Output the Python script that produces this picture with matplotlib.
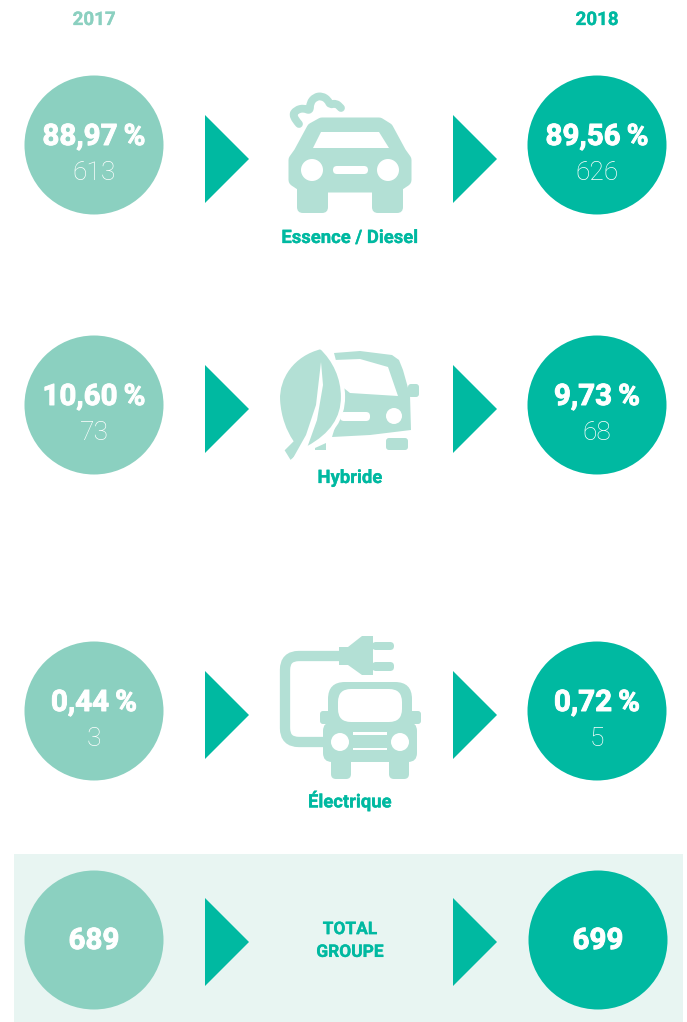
import matplotlib
matplotlib.use('Agg')
import matplotlib.pyplot as plt
import matplotlib.patheffects as pe
from matplotlib.patches import Circle, Polygon, Rectangle, FancyBboxPatch, PathPatch
from matplotlib.path import Path

years = ['2017', '2018']
categories = ['Essence / Diesel', 'Hybride', 'Électrique']
pct_2017 = ['88,97\u2009%', '10,60\u2009%', '0,44\u2009%']
pct_2018 = ['89,56\u2009%', '9,73\u2009%', '0,72\u2009%']
count_2017 = [613, 73, 3]
count_2018 = [626, 68, 5]
total_label = 'TOTAL\nGROUPE'
total_2017 = 689
total_2018 = 699

LIGHT = '#8bd0c0'
DARK = '#00b9a1'
ICON = '#b3e0d5'
BAND = '#e8f5f2'
WHITE = '#ffffff'
FONT = 'Roboto'

W, H = 687, 1022
fig = plt.figure(figsize=(W / 100, H / 100), dpi=100)
ax = fig.add_axes([0, 0, 1, 1])
ax.set_xlim(0, W)
ax.set_ylim(H, 0)
ax.axis('off')


def smooth(pts):
    # quadratic curves through the midpoints of the control polygon
    mid = lambda a, b: ((a[0] + b[0]) / 2, (a[1] + b[1]) / 2)
    verts = [pts[0]]
    codes = [Path.MOVETO]
    for i in range(1, len(pts) - 1):
        verts += [pts[i], mid(pts[i], pts[i + 1])]
        codes += [Path.CURVE3, Path.CURVE3]
    verts.append(pts[-1])
    codes.append(Path.LINETO)
    return Path(verts, codes)


def rrect(x0, y0, x1, y1, r, color=ICON, z=3):
    ax.add_patch(FancyBboxPatch((x0 + r, y0 + r), x1 - x0 - 2 * r, y1 - y0 - 2 * r,
                                boxstyle='round,pad=%f,rounding_size=%f' % (r, r),
                                fc=color, ec='none', zorder=z))


def poly(pts, color=ICON, z=3, round_px=0):
    # round_px: a stroke of the same colour rounds off the corners
    ax.add_patch(Polygon(pts, closed=True, fc=color, ec=color if round_px else 'none',
                         lw=round_px * 0.72, joinstyle='round', zorder=z))


def dot(x, y, r, color=WHITE, z=4):
    ax.add_patch(Circle((x, y), r, fc=color, ec='none', zorder=z))


def stroke(pts, lw, color=ICON, z=3):
    ax.add_patch(PathPatch(smooth(pts), fc='none', ec=color, lw=lw, capstyle='round',
                           joinstyle='round', zorder=z))


def petrol_car():
    stroke([(299, 124), (292, 116), (296, 110), (304, 108), (310, 111), (310, 103),
            (315, 97), (322, 96), (328, 100), (330, 105), (336, 103), (341, 108)], 5.6)
    poly([(322, 124), (379, 124), (387, 129), (400, 153), (405, 160), (405, 180), (396, 186),
          (304, 186), (295, 180), (295, 160), (300, 153), (313, 129)], round_px=13)
    rrect(297, 180, 328, 213, 6)
    rrect(372, 180, 403, 213, 6)
    poly([(321, 132), (379, 132), (389, 148), (313, 148)], WHITE, 4)
    dot(312, 170, 11)
    dot(388, 170, 11)
    rrect(333, 166, 368, 174, 4, WHITE, 4)


def hybrid_car():
    # wheels and mirror sit under the body
    rrect(386, 438, 408, 450, 3)
    poly([(315, 448), (326, 443), (326, 450), (315, 450)])
    rrect(408, 384, 419, 397, 3)
    poly([(334, 353), (360, 351), (392, 355), (399, 360), (403, 370), (410, 395), (411, 430),
          (370, 435), (332, 437), (345, 395)])
    poly([(334, 360), (360, 359), (388, 367), (398, 396), (350, 393), (340, 385)], WHITE, 4)
    rrect(340, 412, 370, 421, 4, WHITE, 4)
    dot(394, 416, 8)
    # leaf, with a white edge cutting into the car
    leaf = Path([(321, 347), (292, 354), (277, 378), (278, 400), (279, 418), (285, 432), (291, 441),
                 (282, 450), (290, 463), (308, 448), (332, 435), (343, 418), (343, 397),
                 (343, 378), (335, 360), (321, 347)],
                [Path.MOVETO, Path.CURVE4, Path.CURVE4, Path.CURVE4, Path.CURVE4, Path.CURVE4, Path.CURVE4,
                 Path.LINETO, Path.LINETO, Path.LINETO, Path.CURVE4, Path.CURVE4, Path.CURVE4,
                 Path.CURVE4, Path.CURVE4, Path.CURVE4])
    ax.add_patch(PathPatch(leaf, fc=ICON, ec=WHITE, lw=3, zorder=6))
    poly([(321, 362), (323, 385), (317, 420), (307, 448), (295, 464), (292, 460), (306, 435),
          (316, 405)], WHITE, 7)


def electric_car():
    ax.add_patch(PathPatch(Path([(345, 656), (299, 656), (285, 656), (285, 670), (285, 728),
                                 (285, 742), (299, 742), (330, 742)],
                                [Path.MOVETO, Path.LINETO, Path.CURVE3, Path.CURVE3, Path.LINETO,
                                 Path.CURVE3, Path.CURVE3, Path.LINETO]),
                           fc='none', ec=ICON, lw=7.4, zorder=3))
    poly([(339, 647), (348, 647), (362, 636), (373, 636), (373, 675), (362, 675), (348, 665),
          (339, 665)])
    rrect(372, 642, 394, 650, 4)
    rrect(372, 662, 394, 671, 4)
    rrect(328, 682, 412, 730, 17)
    rrect(338, 689, 402, 722, 13, WHITE, 4)
    rrect(320, 711, 421, 724, 3)
    rrect(323, 722, 417, 762, 9)
    poly([(331, 722), (409, 722), (417, 740), (323, 740)])
    rrect(331, 755, 351, 779, 5)
    rrect(389, 755, 409, 779, 5)
    dot(340, 742, 9)
    dot(400, 742, 9)
    ax.add_patch(Rectangle((353, 732.5), 34, 2.5, fc=WHITE, ec='none', zorder=4))
    ax.add_patch(Rectangle((353, 748), 34, 2.5, fc=WHITE, ec='none', zorder=4))


def arrow(x, y):
    poly([(x, y - 44), (x + 44, y), (x, y + 44)], DARK, 2)


def heavy(x, y, s, color=WHITE, size=21.3, lw=0.7, **kw):
    # a thin outline brings Roboto Bold up to the weight of the reference
    ax.text(x, y, s, color=color, fontsize=size, family=FONT, weight='bold', ha='center', va='center',
            zorder=5, path_effects=[pe.withStroke(linewidth=lw, foreground=color)], **kw)


# band behind the total row
ax.add_patch(Rectangle((14, 854), 669, 168, fc=BAND, ec='none', zorder=0))

row_y = [145, 405, 711]
arrow_y = [159, 409, 715]
label_y = [238, 478, 801]
left_x, right_x = 94, 597

heavy(left_x, 20, years[0], LIGHT, 13.5, 0.2)
heavy(right_x, 20, years[1], DARK, 13.5, 0.2)

for i in range(len(categories)):
    ax.add_patch(Circle((left_x, row_y[i]), 69.5, fc=LIGHT, ec='none', zorder=1))
    ax.add_patch(Circle((right_x, row_y[i]), 69.5, fc=DARK, ec='none', zorder=1))
    heavy(left_x, row_y[i] - 8, pct_2017[i])
    heavy(right_x, row_y[i] - 8, pct_2018[i])
    ax.text(left_x, row_y[i] + 28, str(count_2017[i]), color=WHITE, fontsize=19, family=FONT, weight='light',
            ha='center', va='center', zorder=5)
    ax.text(right_x, row_y[i] + 28, str(count_2018[i]), color=WHITE, fontsize=19, family=FONT, weight='light',
            ha='center', va='center', zorder=5)
    arrow(205, arrow_y[i])
    arrow(453, arrow_y[i])
    heavy(350, label_y[i], categories[i], DARK, 13.3, 0.2)

petrol_car()
hybrid_car()
electric_car()

ax.add_patch(Circle((94, 940), 69.5, fc=LIGHT, ec='none', zorder=1))
ax.add_patch(Circle((598, 940), 69.5, fc=DARK, ec='none', zorder=1))
heavy(94, 941, str(total_2017))
heavy(598, 941, str(total_2018))
arrow(205, 942)
arrow(453, 942)
heavy(350, 941, total_label, DARK, 12.5, 0.2, linespacing=1.65)

fig.savefig('out.png', dpi=100)
